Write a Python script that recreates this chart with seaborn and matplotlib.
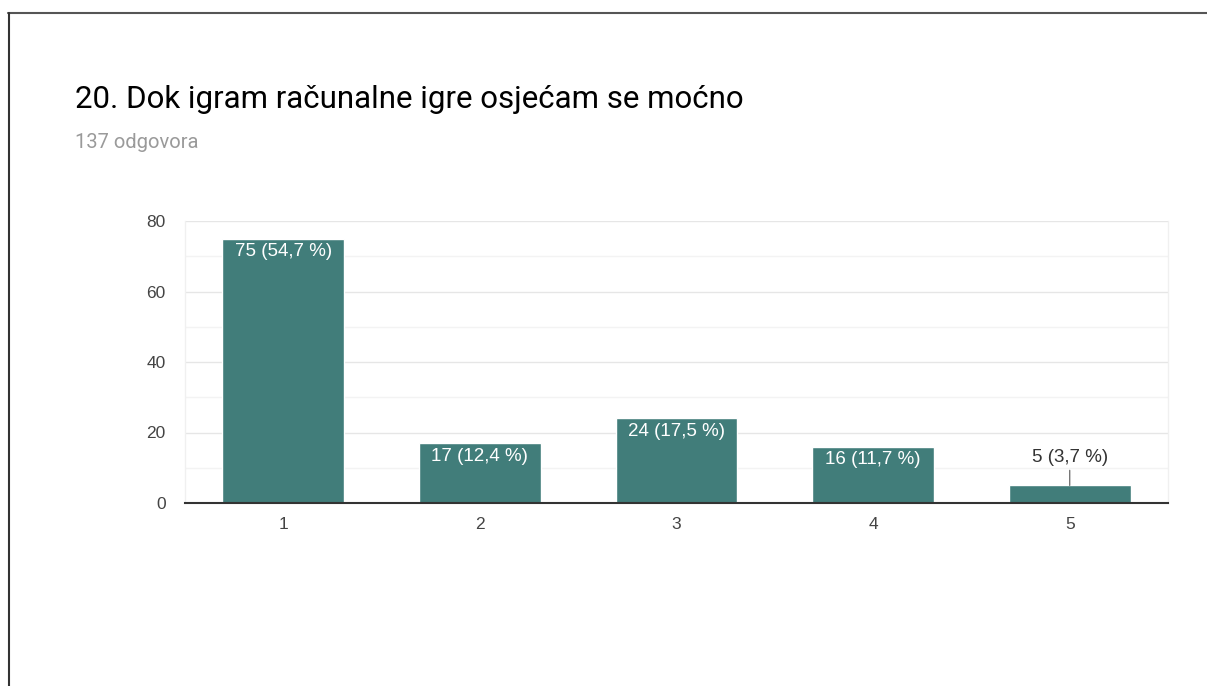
import matplotlib.pyplot as plt
import seaborn as sns
import pandas as pd
from matplotlib.lines import Line2D

# podaci s grafa
odgovori = ['1', '2', '3', '4', '5']
broj = [75, 17, 24, 16, 5]
postotak = ['54,7', '12,4', '17,5', '11,7', '3,7']

naslov = '20. Dok igram računalne igre osjećam se moćno'
podnaslov = '137 odgovora'

df = pd.DataFrame({'odgovor': odgovori, 'broj': broj})

sns.set_style('white')
plt.rcParams['font.family'] = ['Liberation Sans', 'DejaVu Sans']

fig = plt.figure(figsize=(12.07, 6.86), dpi=100)
ax = fig.add_axes([185 / 1207, 1 - 503 / 686, (1168 - 185) / 1207, (503 - 221) / 686])

sns.barplot(data=df, x='odgovor', y='broj', color='#417d7a', saturation=1,
            width=0.62, ax=ax, zorder=3)

ax.set_ylim(0, 80)
ax.set_xlim(-0.5, 4.5)
ax.set_yticks([0, 20, 40, 60, 80])
ax.set_yticks([10, 30, 50, 70], minor=True)
ax.grid(axis='y', which='major', color='#e6e6e6', lw=1, zorder=0)
ax.grid(axis='y', which='minor', color='#f3f3f3', lw=1, zorder=0)
ax.set_xlabel('')
ax.set_ylabel('')
ax.tick_params(axis='both', length=0, labelsize=12.5, colors='#444444')
ax.tick_params(axis='y', pad=14)
ax.tick_params(axis='x', pad=10)

for s in ['left', 'right', 'top']:
    ax.spines[s].set_color('#f0f0f0')
    ax.spines[s].set_linewidth(1)
ax.spines['top'].set_visible(False)
ax.spines['bottom'].set_color('#333333')
ax.spines['bottom'].set_linewidth(1.5)
ax.spines['bottom'].set_zorder(4)

# oznake na stupcima
for i, (b, p) in enumerate(zip(broj, postotak)):
    tekst = f'{b} ({p} %)'
    if b >= 10:
        ax.text(i, b - 1.3, tekst, ha='center', va='top', color='white',
                fontsize=13.5, zorder=5)
    else:
        ax.annotate(tekst, xy=(i, b), xytext=(i, b + 7.8), ha='center',
                    va='center', color='#333333', fontsize=13.5,
                    arrowprops=dict(arrowstyle='-', color='#777777', lw=1,
                                    shrinkA=0.5, shrinkB=0), zorder=5)

fig.text(75 / 1207, 1 - 99 / 686, naslov, fontsize=22.5, color='#000000',
         family=['Roboto', 'DejaVu Sans'], va='center', ha='left')
fig.text(75 / 1207, 1 - 143 / 686, podnaslov, fontsize=14.5, color='#9a9a9a',
         family=['Roboto', 'DejaVu Sans'], va='center', ha='left')

# okvir kartice
fig.add_artist(Line2D([8 / 1207, 1], [1 - 12.5 / 686, 1 - 12.5 / 686],
                      color='#555555', lw=1.5, transform=fig.transFigure))
fig.add_artist(Line2D([8.5 / 1207, 8.5 / 1207], [0, 1 - 12.5 / 686],
                      color='#333333', lw=1.5, transform=fig.transFigure))

fig.savefig('out.png', dpi=100)
